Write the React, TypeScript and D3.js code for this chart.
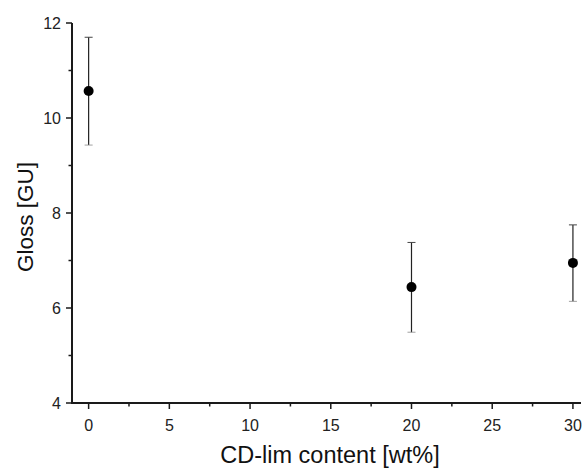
import React, { useEffect, useRef } from 'react'
import * as d3 from 'd3'

const contents = [0, 20, 30]
const gloss = [10.57, 6.44, 6.95]
const errUp = [11.7, 7.38, 7.75]
const errDown = [9.43, 5.49, 6.14]
const xTicks = [0, 5, 10, 15, 20, 25, 30]
const xMinorTicks = [2.5, 7.5, 12.5, 17.5, 22.5, 27.5]
const yTicks = [4, 6, 8, 10, 12]
const yMinorTicks = [5, 7, 9, 11]

const W = 586
const H = 468

function drawChart(el: SVGSVGElement) {
  const svg = d3.select(el)
  svg.selectAll('*').remove()

  const x = d3.scaleLinear().domain([-1.03, 30.5]).range([72, 581])
  const y = d3.scaleLinear().domain([4, 12]).range([403, 23])

  const font = 'Liberation Sans, Arial, sans-serif'
  const axisColor = '#1a1a1a'

  // axis lines
  svg.append('rect')
    .attr('x', x.range()[0] - 1).attr('y', y(12))
    .attr('width', 2).attr('height', y(4) - y(12) + 1)
    .attr('fill', axisColor)
  svg.append('rect')
    .attr('x', x.range()[0] - 1).attr('y', y(4) - 1)
    .attr('width', x.range()[1] - x.range()[0] + 1).attr('height', 2)
    .attr('fill', axisColor)

  // x ticks
  const gx = svg.append('g').attr('transform', `translate(0,${y(4)})`)
  gx.selectAll('line.maj').data(xTicks).join('line').attr('class', 'maj')
    .attr('x1', d => x(d)).attr('x2', d => x(d)).attr('y1', 0).attr('y2', 6)
    .attr('stroke', axisColor).attr('stroke-width', 1.5)
  gx.selectAll('line.min').data(xMinorTicks).join('line').attr('class', 'min')
    .attr('x1', d => x(d)).attr('x2', d => x(d)).attr('y1', 0).attr('y2', 3.5)
    .attr('stroke', axisColor).attr('stroke-width', 1.5)
  gx.selectAll('text').data(xTicks).join('text')
    .attr('x', d => x(d)).attr('y', 28).attr('text-anchor', 'middle')
    .attr('font-family', font).attr('font-size', 16).attr('fill', '#222')
    .text(d => d)

  // y ticks
  const gy = svg.append('g').attr('transform', `translate(${x.range()[0]},0)`)
  gy.selectAll('line.maj').data(yTicks).join('line').attr('class', 'maj')
    .attr('y1', d => y(d)).attr('y2', d => y(d)).attr('x1', 0).attr('x2', -6)
    .attr('stroke', axisColor).attr('stroke-width', 1.5)
  gy.selectAll('line.min').data(yMinorTicks).join('line').attr('class', 'min')
    .attr('y1', d => y(d)).attr('y2', d => y(d)).attr('x1', 0).attr('x2', -3.5)
    .attr('stroke', axisColor).attr('stroke-width', 1.5)
  gy.selectAll('text').data(yTicks).join('text')
    .attr('x', -11).attr('y', d => y(d)).attr('dy', '0.36em').attr('text-anchor', 'end')
    .attr('font-family', font).attr('font-size', 16).attr('fill', '#222')
    .text(d => d)

  // axis titles
  svg.append('text').attr('x', 330).attr('y', 463).attr('text-anchor', 'middle')
    .attr('font-family', font).attr('font-size', 23.5).attr('fill', '#111')
    .text('CD-lim content [wt%]')
  svg.append('text').attr('transform', `translate(33,217) rotate(-90)`)
    .attr('text-anchor', 'middle')
    .attr('font-family', font).attr('font-size', 22.5).attr('fill', '#111')
    .text('Gloss [GU]')

  // error bars and points
  const idx = d3.range(contents.length)
  const g = svg.append('g')
  g.selectAll('line.err').data(idx).join('line').attr('class', 'err')
    .attr('x1', i => x(contents[i])).attr('x2', i => x(contents[i]))
    .attr('y1', i => y(errUp[i])).attr('y2', i => y(errDown[i]))
    .attr('stroke', '#222').attr('stroke-width', 1.2)
  g.selectAll('line.capU').data(idx).join('line').attr('class', 'capU')
    .attr('x1', i => x(contents[i]) - 4).attr('x2', i => x(contents[i]) + 4)
    .attr('y1', i => y(errUp[i])).attr('y2', i => y(errUp[i]))
    .attr('stroke', '#444').attr('stroke-width', 1)
  g.selectAll('line.capD').data(idx).join('line').attr('class', 'capD')
    .attr('x1', i => x(contents[i]) - 4).attr('x2', i => x(contents[i]) + 4)
    .attr('y1', i => y(errDown[i])).attr('y2', i => y(errDown[i]))
    .attr('stroke', '#888').attr('stroke-width', 0.8)
  g.selectAll('circle').data(idx).join('circle')
    .attr('cx', i => x(contents[i])).attr('cy', i => y(gloss[i])).attr('r', 5)
    .attr('fill', '#000')
}

export default function App() {
  const ref = useRef<SVGSVGElement>(null)
  useEffect(() => {
    if (ref.current) drawChart(ref.current)
  }, [])
  return (
    <svg ref={ref} width={W} height={H}
      style={{ position: 'absolute', left: 0, top: 0, background: '#fff' }} />
  )
}
